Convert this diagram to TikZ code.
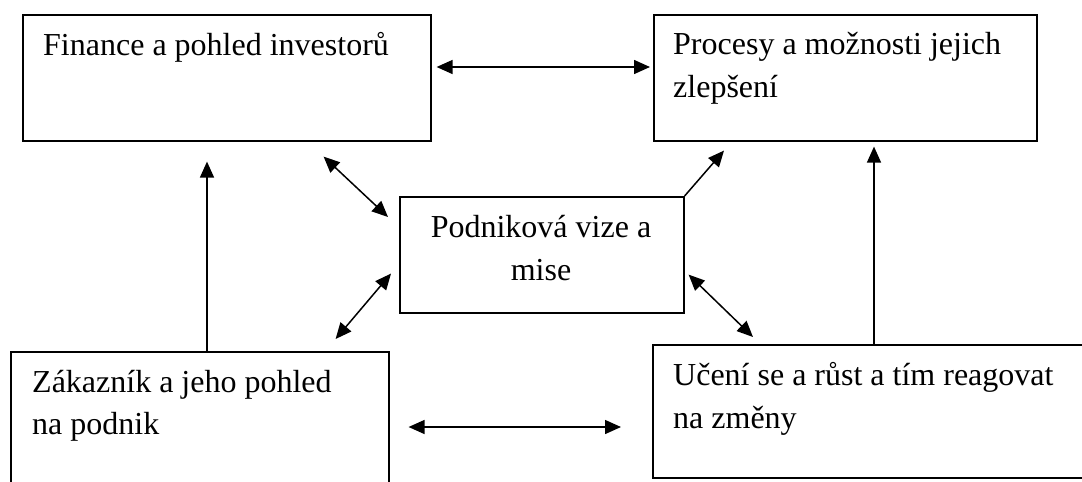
\documentclass[tikz,border=0pt]{standalone}
\usepackage{fontspec}
\setmainfont{Liberation Serif}
\usetikzlibrary{arrows.meta,calc}
\tikzset{
  box/.style={draw=black,line width=1.6pt,inner sep=0pt,anchor=north west},
  txt/.style={inner sep=0pt,anchor=base west,font=\fontsize{32}{44}\selectfont},
  ctxt/.style={inner sep=0pt,anchor=base,font=\fontsize{32}{44}\selectfont},
  arr/.style={line width=1.5pt,-{Triangle[length=16pt,width=14pt]}},
  dbl/.style={line width=1.5pt,{Triangle[length=16pt,width=14pt]}-{Triangle[length=16pt,width=14pt]}}
}
\begin{document}
\begin{tikzpicture}[x=1pt,y=-1pt]
\useasboundingbox (0,0) rectangle (1082,482);
\fill[white] (0,0) rectangle (1082,482);
% boxes
\node[box,minimum width=408pt,minimum height=126pt] (A) at (22,14) {};
\node[box,minimum width=383pt,minimum height=126pt] (B) at (653,14) {};
\node[box,minimum width=284pt,minimum height=116pt] (C) at (399,196) {};
\node[box,minimum width=378pt,minimum height=200pt] (D) at (10,351) {};
\node[box,minimum width=500pt,minimum height=133pt] (E) at (652,344) {};
% texts
\node[txt] (tA) at (43,55) {Finance a pohled investorů};
\node[txt] (tB1) at (673,54) {Procesy a možnosti jejich};
\node[txt] (tB2) at (673,97) {zlepšení};
\node[ctxt] (tC1) at (541,237) {Podniková vize a};
\node[ctxt] (tC2) at (541,280) {mise};
\node[txt] (tD1) at (32,392) {Zákazník a jeho pohled};
\node[txt] (tD2) at (32,434) {na podnik};
\node[txt] (tE1) at (673,385) {Učení se a růst a tím reagovat};
\node[txt] (tE2) at (673,428) {na změny};
% connectors
\draw[dbl] ($(A.north east)+(5,53)$) -- ($(B.north west)+(-3,53)$);
\draw[dbl] ($(A.south east)+(-108,15)$) -- ($(C.north west)+(-11,21)$);
\draw[dbl] ($(C.south west)+(-8,-40)$) -- ($(D.north east)+(-54,-12)$);
\draw[arr] (C.north east) -- ($(B.south west)+(71,9)$);
\draw[dbl] ($(C.south east)+(4,-39)$) -- ($(E.north west)+(101,-7)$);
\draw[arr] ($(D.north west)+(197,0)$) -- ($(A.south west)+(185,20)$);
\draw[arr] ($(E.north west)+(222,0)$) -- ($(B.south west)+(221,5)$);
\draw[dbl] ($(D.north east)+(19,76)$) -- ($(E.north west)+(-31,83)$);
\end{tikzpicture}
\end{document}
